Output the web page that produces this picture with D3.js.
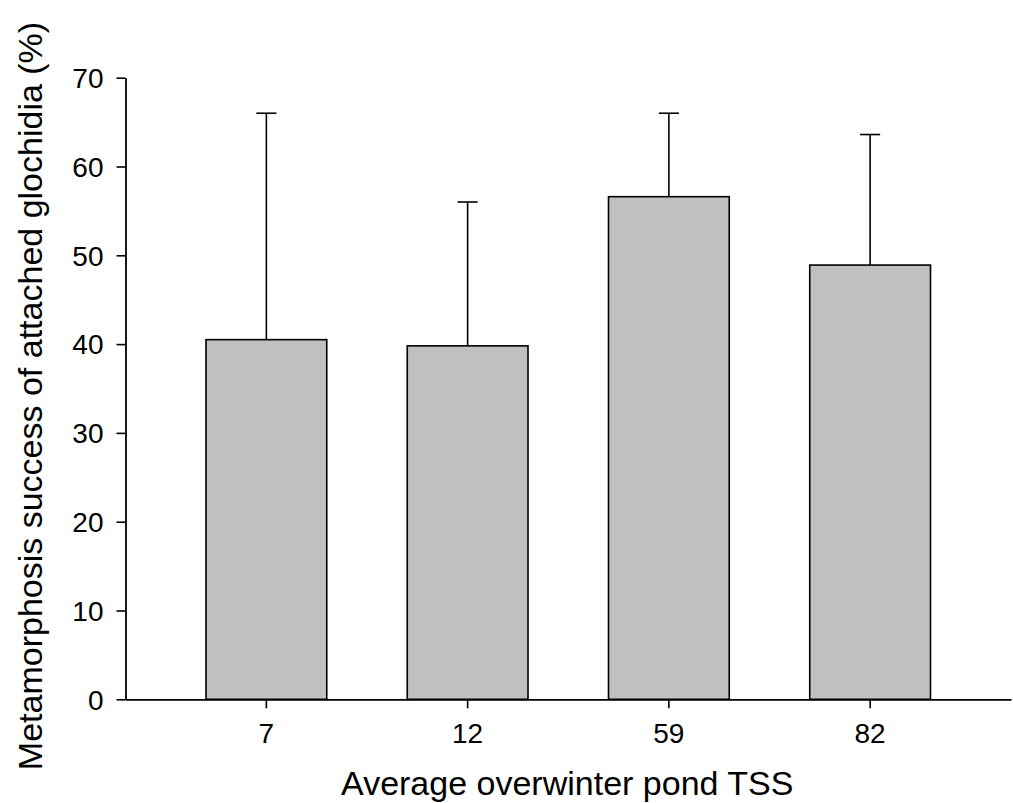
<!DOCTYPE html>
<html>
<head>
<meta charset="utf-8">
<script src="https://cdn.jsdelivr.net/npm/d3@7"></script>
<style>
  html, body { margin: 0; padding: 0; background: #fff; }
  svg { display: block; }
  text { font-family: "Liberation Sans", Arial, sans-serif; fill: #000; }
</style>
</head>
<body>
<svg id="chart" width="1013" height="803"></svg>
<script>
// Mean metamorphosis success (%) with upper SD bars, by pond TSS group
const categories = ["7", "12", "59", "82"];
const means = [40.5, 39.8, 56.6, 48.9];
const upperErr = [66.0, 56.0, 66.0, 63.6];
const yTicks = [0, 10, 20, 30, 40, 50, 60, 70];

const svg = d3.select("#chart");
const x0 = 125.5, x1 = 1011, yBase = 699.3, yTop = 77.7;

const x = d3.scaleBand()
  .domain(categories)
  .range([x0, x1])
  .paddingInner(0.4)
  .paddingOuter(0.4);

const y = d3.scaleLinear()
  .domain([0, 70])
  .range([yBase, yTop]);

// bars
svg.append("g")
  .selectAll("rect")
  .data(categories)
  .join("rect")
  .attr("x", d => x(d))
  .attr("width", x.bandwidth())
  .attr("y", (d, i) => y(means[i]))
  .attr("height", (d, i) => y(0) - y(means[i]))
  .attr("fill", "#c0c0c0")
  .attr("stroke", "#000")
  .attr("stroke-width", 1.6);

// upper error bars
const capHalf = 10;
const eb = svg.append("g").attr("stroke", "#000").attr("stroke-width", 1.6);
categories.forEach((c, i) => {
  const cx = x(c) + x.bandwidth() / 2;
  eb.append("line")
    .attr("x1", cx).attr("x2", cx)
    .attr("y1", y(means[i])).attr("y2", y(upperErr[i]));
  eb.append("line")
    .attr("x1", cx - capHalf).attr("x2", cx + capHalf)
    .attr("y1", y(upperErr[i])).attr("y2", y(upperErr[i]));
});

// y axis
const yAxis = svg.append("g")
  .attr("transform", `translate(${x0},0)`)
  .attr("font-size", 28)
  .call(d3.axisLeft(y).tickValues(yTicks).tickSize(9).tickPadding(13).tickSizeOuter(0));
yAxis.attr("font-size", 28).attr("font-family", "'Liberation Sans', Arial, sans-serif");
yAxis.select(".domain").attr("stroke-width", 1.8);
yAxis.selectAll(".tick line").attr("stroke-width", 1.6);
yAxis.selectAll("text").attr("dy", "0.35em");

// x axis
const xAxis = svg.append("g")
  .attr("transform", `translate(0,${yBase})`)
  .call(d3.axisBottom(x).tickSize(9).tickPadding(15).tickSizeOuter(0));
xAxis.attr("font-size", 28).attr("font-family", "'Liberation Sans', Arial, sans-serif");
xAxis.select(".domain").attr("stroke-width", 1.8);
xAxis.selectAll(".tick line").attr("stroke-width", 1.6);

// axis titles
svg.append("text")
  .attr("x", (x0 + x1) / 2 - 1)
  .attr("y", 795)
  .attr("text-anchor", "middle")
  .attr("font-size", 34)
  .text("Average overwinter pond TSS");

svg.append("text")
  .attr("transform", `translate(42,396) rotate(-90)`)
  .attr("text-anchor", "middle")
  .attr("font-size", 34)
  .text("Metamorphosis success of attached glochidia (%)");
</script>
</body>
</html>
